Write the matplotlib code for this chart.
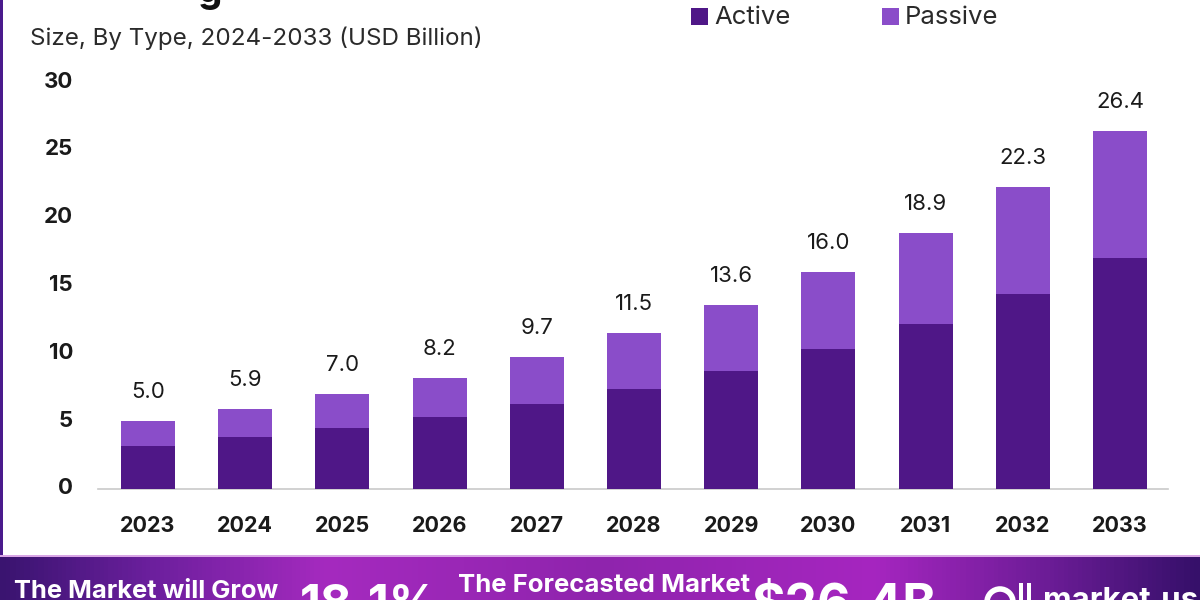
import numpy as np
import matplotlib
matplotlib.use("Agg")
import matplotlib.pyplot as plt
from matplotlib.colors import LinearSegmentedColormap
from matplotlib.patches import Rectangle, Circle
from matplotlib.transforms import ScaledTranslation

years = ["2023", "2024", "2025", "2026", "2027", "2028", "2029", "2030", "2031", "2032", "2033"]
active = [3.2, 3.8, 4.5, 5.3, 6.3, 7.4, 8.7, 10.3, 12.2, 14.4, 17.0]
totals = [5.0, 5.9, 7.0, 8.2, 9.7, 11.5, 13.6, 16.0, 18.9, 22.3, 26.4]
passive = [round(t - a, 1) for t, a in zip(totals, active)]
yticks = [0, 5, 10, 15, 20, 25, 30]

DARK = "#4f1787"
LIGHT = "#8a4dc9"
INK = "#1a1a1a"
plt.rcParams["font.family"] = ["Inter", "DejaVu Sans"]

W, H = 1200, 600
fig = plt.figure(figsize=(12, 6), dpi=100, facecolor="white")

def fx(x): return x / W
def fy(y): return 1 - y / H

# left frame strip
fig.add_artist(Rectangle((0, fy(555)), fx(3), 555 / H, transform=fig.transFigure, color="#4a1a8c", lw=0))

# main axes: baseline y=489 px, 13.56 px/unit
top_px = 489 - 30 * 13.56
ax = fig.add_axes([fx(98), fy(489), fx(1168 - 98), (489 - top_px) / H])
ax.set_xlim(-0.514, 10.494)
ax.set_ylim(0, 30)
x = np.arange(len(years))
ax.bar(x, active, width=0.555, color=DARK, zorder=3)
ax.bar(x, passive, width=0.555, bottom=active, color=LIGHT, zorder=3)
for xi, t in zip(x, totals):
    ax.annotate(f"{t:.1f}", (xi, t), xytext=(0, 19), textcoords="offset pixels",
                ha="center", va="bottom", fontsize=16, color=INK)
for s in ["top", "right", "left"]:
    ax.spines[s].set_visible(False)
ax.spines["bottom"].set_color("#c9c9c9")
ax.spines["bottom"].set_linewidth(1.2)
ax.set_xticks(x, years)
ax.set_yticks(yticks, [str(v) for v in yticks])
ax.tick_params(length=0)
ax.tick_params(axis="x", pad=19.5, labelsize=15.5, labelcolor=INK)
ax.tick_params(axis="y", pad=18, labelsize=16, labelcolor=INK)
shift = ScaledTranslation(0, 2.5 / 100, fig.dpi_scale_trans)
for lab in ax.get_xticklabels() + ax.get_yticklabels():
    lab.set_fontweight("bold")
for lab in ax.get_yticklabels():
    lab.set_transform(lab.get_transform() + shift)

# subtitle and clipped title remnant
fig.text(fx(30), fy(38), "Size, By Type, 2024-2033 (USD Billion)", fontsize=17.4,
         color="#2a2a2a", ha="left", va="center")
fig.text(fx(210), fy(-8), "g", fontsize=28, fontweight="bold", color="#111111", ha="center", va="center")

# legend
for px, name, col, tx in [(691, "Active", DARK, 714), (882, "Passive", LIGHT, 905)]:
    fig.add_artist(Rectangle((fx(px), fy(25)), fx(17), 17 / H, transform=fig.transFigure, color=col, lw=0))
    fig.text(fx(tx), fy(18), name, fontsize=18.5, color="#2a2a2a", ha="left", va="center")

# banner
cmap = LinearSegmentedColormap.from_list("banner", [
    (0.0, "#3a1470"), (0.12, "#6a1f9c"), (0.27, "#a52abf"), (0.5, "#8f24ad"),
    (0.73, "#a626c0"), (0.88, "#6a1c95"), (1.0, "#36106a")])
bax = fig.add_axes([0, 0, 1, 44 / H])
bax.imshow(np.linspace(0, 1, 600)[None, :], aspect="auto", cmap=cmap, extent=(0, 1, 0, 1))
bax.axis("off")
fig.add_artist(Rectangle((0, fy(557)), 1, 2 / H, transform=fig.transFigure, color="#d9a6e6", lw=0))

banner = [(14, 591, "The Market will Grow", 18.4),
          (300, 606, "18.1%", 35),
          (458, 586, "The Forecasted Market", 18.5),
          (752, 608, "$26.4B", 37),
          (1043, 601, "market.us", 22.5)]
for bx, by, s, fs in banner:
    fig.text(fx(bx), fy(by), s, fontsize=fs, fontweight="bold", color="white", ha="left", va="center")

# logo fragment
fig.add_artist(Circle((fx(1000), fy(603)), 0, transform=fig.transFigure))
logo = fig.add_axes([fx(980), 0, fx(60), 20 / H])
logo.set_xlim(980, 1040)
logo.set_ylim(600, 580)
logo.axis("off")
logo.add_patch(Circle((1000, 602), 13, fill=False, ec="white", lw=4))
logo.add_patch(Rectangle((1019, 583), 4, 17, color="white", lw=0))
logo.add_patch(Rectangle((1027, 583), 4, 17, color="white", lw=0))

fig.savefig("out.png", dpi=100)
